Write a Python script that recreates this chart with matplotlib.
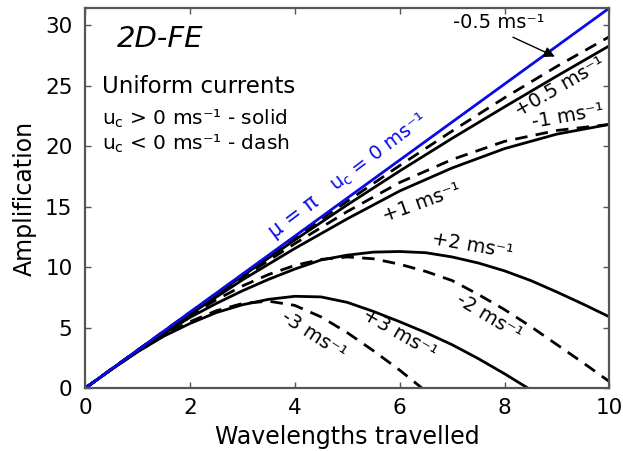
import numpy as np
import matplotlib
matplotlib.use("Agg")
import matplotlib.pyplot as plt

# wavelengths travelled (grid used for reading the curves)
x_fine = [0, 0.5, 1, 1.5, 2, 2.5, 3, 3.5, 4, 4.5, 5, 5.5, 6, 6.5, 7, 7.5, 8, 8.5, 9, 9.5, 10]
x_coarse = [0, 1, 2, 3, 4, 5, 6, 7, 8, 9, 10]

# uc = 0 (mu = pi)
x_zero = [0, 10]
amp_zero = [0, 31.42]

# weak currents
amp_p05 = [0, 3.13, 6.22, 9.28, 12.25, 15.15, 17.95, 20.65, 23.25, 25.8, 28.3]
amp_m05 = [0, 3.14, 6.27, 9.38, 12.45, 15.45, 18.4, 21.25, 24.0, 26.6, 29.05]
amp_p1 = [0, 3.1, 6.1, 8.95, 11.55, 14.0, 16.3, 18.2, 19.8, 21.0, 21.8]
amp_m1 = [0, 3.13, 6.2, 9.15, 11.95, 14.6, 17.0, 18.9, 20.4, 21.3, 21.8]

# strong currents
amp_p2 = [0, 1.55, 3.05, 4.5, 5.85, 7.0, 8.05, 9.0, 9.85, 10.6, 11.0, 11.25, 11.3,
          11.2, 10.85, 10.35, 9.7, 8.9, 7.95, 6.95, 5.9]
amp_m2 = [0, 1.57, 3.1, 4.6, 6.0, 7.3, 8.45, 9.4, 10.15, 10.65, 10.85, 10.7, 10.25,
          9.65, 8.9, 7.75, 6.5, 5.1, 3.6, 2.1, 0.55]
x_p3 = [0, 0.5, 1, 1.5, 2, 2.5, 3, 3.5, 4, 4.5, 5, 5.5, 6, 6.5, 7, 7.5, 8, 8.45]
amp_p3 = [0, 1.55, 3.0, 4.3, 5.35, 6.25, 6.9, 7.35, 7.6, 7.55, 7.1, 6.35, 5.5,
          4.6, 3.6, 2.45, 1.2, 0]
x_m3 = [0, 0.5, 1, 1.5, 2, 2.5, 3, 3.5, 4, 4.5, 5, 5.5, 6, 6.43]
amp_m3 = [0, 1.56, 3.05, 4.4, 5.5, 6.4, 7.0, 7.2, 6.85, 5.9, 4.6, 3.1, 1.5, 0]

plt.rcParams['font.family'] = 'DejaVu Sans'

fig = plt.figure(figsize=(6.23, 4.51), dpi=100)
ax = fig.add_axes([0.1364, 0.139, 0.8419, 0.8433])

lw = 2.0
dash = (0, (4.5, 3))
ax.plot(x_coarse, amp_p05, color='black', lw=lw)
ax.plot(x_coarse, amp_m05, color='black', lw=lw, linestyle=dash)
ax.plot(x_coarse, amp_p1, color='black', lw=lw)
ax.plot(x_coarse, amp_m1, color='black', lw=lw, linestyle=dash)
ax.plot(x_fine, amp_p2, color='black', lw=lw)
ax.plot(x_fine, amp_m2, color='black', lw=lw, linestyle=dash)
ax.plot(x_p3, amp_p3, color='black', lw=lw)
ax.plot(x_m3, amp_m3, color='black', lw=lw, linestyle=dash)
blue = '#0a0ae6'
ax.plot(x_zero, amp_zero, color=blue, lw=lw)

ax.set_xlim(0, 10)
ax.set_ylim(0, 10 * np.pi)
ax.set_xticks([0, 2, 4, 6, 8, 10])
ax.set_yticks([0, 5, 10, 15, 20, 25, 30])
ax.tick_params(direction='in', length=4, width=1, colors='#555555',
               labelcolor='black', labelsize=15.5, top=True, right=True)
ax.tick_params(axis='x', pad=7)
ax.tick_params(axis='y', pad=9)
for s in ax.spines.values():
    s.set_linewidth(1.6)
    s.set_color('#555555')

ax.set_xlabel('Wavelengths travelled', fontsize=17, labelpad=5)
ax.set_ylabel('Amplification', fontsize=17, labelpad=6)

ms = ' ms\u207b\u00b9'
ax.text(0.61, 28.2, '2D-FE', fontsize=21, style='italic', va='baseline')
ax.text(0.32, 24.43, 'Uniform currents', fontsize=16.5, va='baseline')
ax.text(0.32, 21.76, r'u$_{\mathregular{c}}$ > 0' + ms + ' - solid', fontsize=14.5, va='baseline')
ax.text(0.32, 19.7, r'u$_{\mathregular{c}}$ < 0' + ms + ' - dash', fontsize=14.5, va='baseline')

ax.text(3.97, 14.15, 'μ = π', color=blue, fontsize=15,
        rotation=37, ha='center', va='center', rotation_mode='anchor')
ax.text(5.6, 19.45, r'u$_{\mathregular{c}}$ = 0' + ms, color=blue, fontsize=14,
        rotation=37, ha='center', va='center', rotation_mode='anchor')

lab = dict(fontsize=14, ha='center', va='center', rotation_mode='anchor')
ax.text(7.88, 30.2, '-0.5' + ms, **lab)
ax.annotate('', xy=(8.96, 27.4), xytext=(8.16, 29.0),
            arrowprops=dict(arrowstyle='-|>', color='black', lw=1,
                            mutation_scale=16, shrinkA=0, shrinkB=0))
ax.text(9.05, 24.9, '+0.5' + ms, rotation=30, **lab)
ax.text(9.2, 22.5, '-1' + ms, rotation=10, **lab)
ax.text(6.42, 15.35, '+1' + ms, rotation=20, **lab)
ax.text(7.38, 11.8, '+2' + ms, rotation=-10, **lab)
ax.text(7.7, 5.85, '-2' + ms, rotation=-31, **lab)
ax.text(6.0, 4.5, '+3' + ms, rotation=-30, **lab)
ax.text(4.35, 4.35, '-3' + ms, rotation=-33, **lab)

fig.savefig('out.png', dpi=100)
